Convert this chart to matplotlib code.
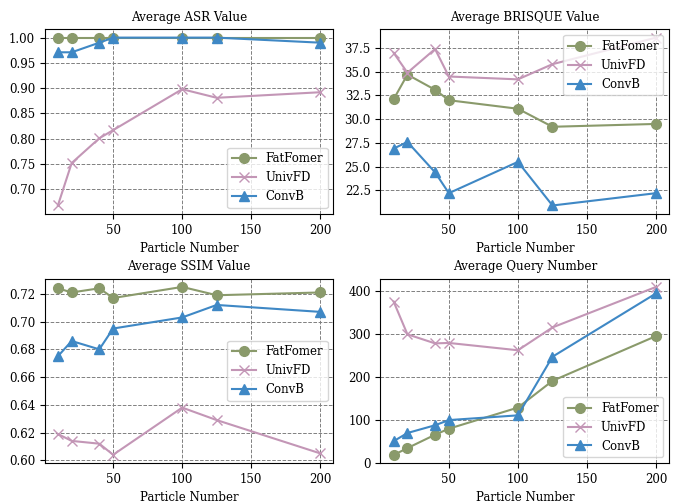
import matplotlib
matplotlib.use("Agg")
import matplotlib.pyplot as plt
from matplotlib.ticker import MultipleLocator

plt.rcParams["font.family"] = "DejaVu Serif"
plt.rcParams["font.size"] = 8.5

# datos
particles = [10, 20, 40, 50, 100, 125, 200]

asr_fat = [1.0, 1.0, 1.0, 1.0, 1.0, 1.0, 1.0]
asr_univ = [0.668, 0.752, 0.801, 0.817, 0.898, 0.881, 0.892]
asr_conv = [0.971, 0.971, 0.990, 1.0, 1.0, 1.0, 0.990]

brisque_fat = [32.1, 34.7, 33.1, 32.0, 31.1, 29.2, 29.5]
brisque_univ = [37.0, 34.9, 37.4, 34.5, 34.2, 35.8, 38.6]
brisque_conv = [26.9, 27.6, 24.4, 22.2, 25.5, 20.9, 22.2]

ssim_fat = [0.724, 0.721, 0.724, 0.717, 0.725, 0.719, 0.721]
ssim_univ = [0.619, 0.614, 0.612, 0.604, 0.638, 0.629, 0.605]
ssim_conv = [0.675, 0.686, 0.680, 0.695, 0.703, 0.712, 0.707]

query_fat = [19, 35, 66, 80, 129, 191, 295]
query_univ = [375, 299, 278, 279, 262, 315, 409]
query_conv = [51, 70, 88, 100, 111, 247, 394]

titles = ["Average ASR Value", "Average BRISQUE Value",
          "Average SSIM Value", "Average Query Number"]
series = [
    (asr_fat, asr_univ, asr_conv),
    (brisque_fat, brisque_univ, brisque_conv),
    (ssim_fat, ssim_univ, ssim_conv),
    (query_fat, query_univ, query_conv),
]
legend_locs = ["lower right", "upper right", "center right", "lower right"]

c_fat = "#8a9a6b"
c_univ = "#c396b6"
c_conv = "#3f88c5"

fig, axes = plt.subplots(2, 2, figsize=(6.78, 5.04), dpi=100)

for ax, title, (fat, univ, conv), loc in zip(axes.flat, titles, series, legend_locs):
    ax.plot(particles, fat, color=c_fat, marker="o", markersize=7, linewidth=1.5, label="FatFomer")
    ax.plot(particles, univ, color=c_univ, marker="x", markersize=7, linewidth=1.5, label="UnivFD")
    ax.plot(particles, conv, color=c_conv, marker="^", markersize=7, linewidth=1.5, label="ConvB")
    ax.set_title(title, fontsize=8.6)
    ax.set_xlabel("Particle Number")
    ax.set_xticks([50, 100, 150, 200])
    ax.grid(True, linestyle="--", color="gray", linewidth=0.7)
    ax.legend(loc=loc)

axes[0, 0].yaxis.set_major_locator(MultipleLocator(0.05))
axes[0, 1].yaxis.set_major_locator(MultipleLocator(2.5))
axes[1, 0].yaxis.set_major_locator(MultipleLocator(0.02))
axes[1, 1].set_ylim(0, None)

plt.subplots_adjust(left=0.066, right=0.987, top=0.942, bottom=0.081,
                    wspace=0.163, hspace=0.35)
plt.savefig("out.png")
